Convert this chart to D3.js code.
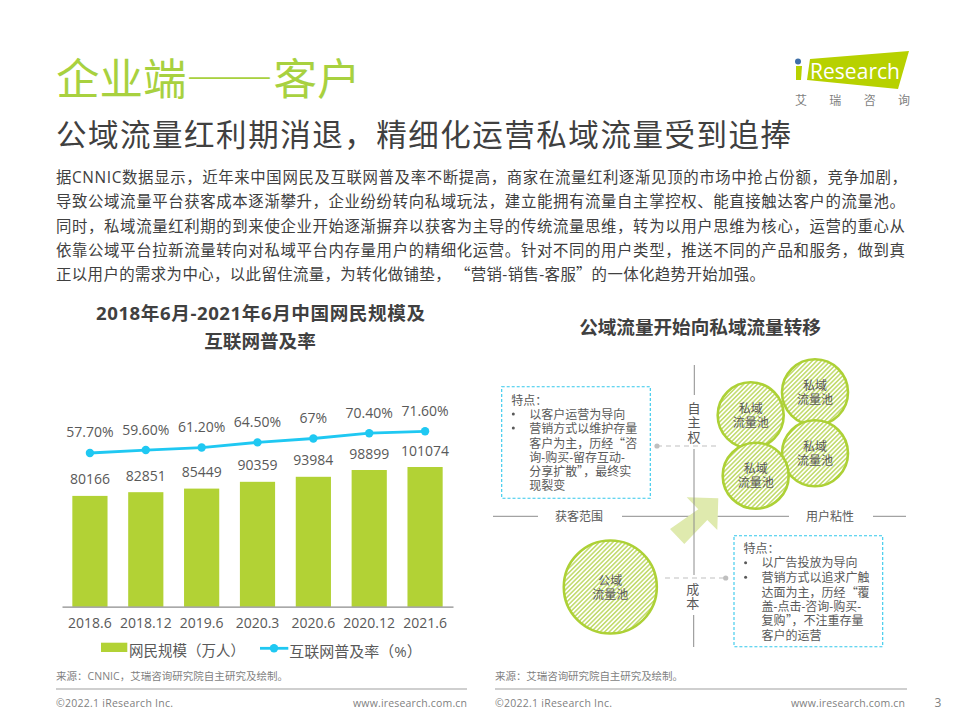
<!DOCTYPE html>
<html lang='en'>
	<head>
		<meta charset='utf-8'>
		<title>企业端——客户</title>
		<script src="https://d3js.org/d3.v7.min.js"></script>
		<style type="text/css">
			/* dashes and quotes must come from the CJK face, they are narrow in Open Sans */
			@font-face {
				font-family: "CjkPunct";
				src: local("Noto Sans CJK SC"), local("NotoSansCJKsc-Regular"), local("Noto Sans CJK SC Regular");
				unicode-range: U+2014, U+2018-201D;
			}
			html, body { margin: 0; padding: 0; background: #fff; }
			svg { display: block; }
			text { font-family: "CjkPunct", "Open Sans", "Noto Sans CJK SC", sans-serif; fill: #595959; }
		</style>
	</head>
	<body>
		<script type='text/javascript'>
			//Chart data
			var categories = ['2018.6', '2018.12', '2019.6', '2020.3', '2020.6', '2020.12', '2021.6'];
			var netizens = [80166, 82851, 85449, 90359, 93984, 98899, 101074];
			var rates = [57.7, 59.6, 61.2, 64.5, 67, 70.4, 71.6];
			var rateLabels = ['57.70%', '59.60%', '61.20%', '64.50%', '67%', '70.40%', '71.60%'];

			//Page text
			var bodyLines = [
				'据CNNIC数据显示，近年来中国网民及互联网普及率不断提高，商家在流量红利逐渐见顶的市场中抢占份额，竞争加剧，',
				'导致公域流量平台获客成本逐渐攀升，企业纷纷转向私域玩法，建立能拥有流量自主掌控权、能直接触达客户的流量池。',
				'同时，私域流量红利期的到来使企业开始逐渐摒弃以获客为主导的传统流量思维，转为以用户思维为核心，运营的重心从',
				'依靠公域平台拉新流量转向对私域平台内存量用户的精细化运营。针对不同的用户类型，推送不同的产品和服务，做到真',
				'正以用户的需求为中心，以此留住流量，为转化做铺垫， “营销-销售-客服”的一体化趋势开始加强。'
			];
			var leftBox = ['以客户运营为导向', '营销方式以维护存量', '客户为主，历经“咨', '询-购买-留存互动-', '分享扩散”，最终实', '现裂变'];
			var rightBox = ['以广告投放为导向', '营销方式以追求广触', '达面为主，历经“覆', '盖-点击-咨询-购买-', '复购”，不注重存量', '客户的运营'];

			var green = '#b2d235';
			var blue = '#1fc8f2';

			var svg = d3.select('body').append('svg').attr('width', 959).attr('height', 719);

			//Hatch used by the pools
			var hatch = svg.append('defs').append('pattern')
				.attr('id', 'hatch')
				.attr('width', 3.2)
				.attr('height', 3.2)
				.attr('patternUnits', 'userSpaceOnUse')
				.attr('patternTransform', 'rotate(-45)');
			hatch.append('rect').attr('width', 3.2).attr('height', 3.2).attr('fill', '#fff');
			hatch.append('rect').attr('width', 3.2).attr('height', 1.6).attr('fill', '#c4dc72');

			function label(x, y, str, size, opts) {
				opts = opts || {};
				var t = svg.append('text')
					.attr('x', x)
					.attr('y', y)
					.attr('dominant-baseline', 'central')
					.attr('text-anchor', opts.anchor || 'start')
					.style('font-size', size + 'px')
					.text(str);
				if (opts.fill) t.style('fill', opts.fill);
				if (opts.weight) t.style('font-weight', opts.weight);
				if (opts.width) t.attr('textLength', opts.width).attr('lengthAdjust', 'spacing');
				return t;
			}

			//Header
			label(56, 78, '企业端——客户', 43.5, {fill: '#a8d13f'})
				.style('font-feature-settings', '"fwid"');
			label(56, 134, '公域流量红利期消退，精细化运营私域流量受到追捧', 30.5, {fill: '#404040', width: 735});

			var bodyWidths = [851, 849, 849, 849, 709];
			var bodyY = [177, 201, 226, 250, 274];
			bodyLines.forEach(function(line, i) {
				label(56, bodyY[i], line, 15.4, {fill: '#404040', width: bodyWidths[i]});
			});

			//Logo
			svg.append('polygon')
				.attr('points', '810,59 909,51 898,89 807,80')
				.attr('fill', '#b7d100');
			svg.append('circle').attr('cx', 798).attr('cy', 61.5).attr('r', 3).attr('fill', '#3f6fa8');
			svg.append('polygon').attr('points', '796,66 802,66 801,80 796,80').attr('fill', '#b7d100');
			label(810, 71, 'Research', 21, {fill: '#fff', width: 90});
			label(795, 100, '艾瑞咨询', 12, {fill: '#7f7f7f', width: 115});

			//Left chart
			label(96, 312, '2018年6月-2021年6月中国网民规模及', 18.6, {weight: 700, fill: '#404040', width: 329});
			label(260, 340, '互联网普及率', 18.6, {anchor: 'middle', weight: 700, fill: '#404040'});

			var x = d3.scaleBand().domain(categories).range([62, 453]).paddingInner(0.37).paddingOuter(0.185);
			var y = d3.scaleLinear().domain([0, 101074]).range([606.7, 467]);
			var yRate = d3.scaleLinear().domain([0, 100]).range([543, 387]);
			var cx = function(d) { return x(d) + x.bandwidth() / 2; };

			svg.selectAll('rect.bar')
				.data(netizens)
				.enter()
				.append('rect')
				.attr('class', 'bar')
				.attr('x', function(d, i) { return x(categories[i]); })
				.attr('y', function(d) { return y(d); })
				.attr('width', x.bandwidth())
				.attr('height', function(d) { return y(0) - y(d); })
				.attr('fill', green);

			svg.selectAll('text.barval')
				.data(netizens)
				.enter()
				.append('text')
				.attr('class', 'barval')
				.attr('x', function(d, i) { return cx(categories[i]); })
				.attr('y', function(d) { return y(d) - 17; })
				.attr('dominant-baseline', 'central')
				.attr('text-anchor', 'middle')
				.style('font-size', '14px')
				.text(function(d) { return d; });

			var axis = svg.append('g')
				.attr('transform', 'translate(0,' + y(0) + ')')
				.call(d3.axisBottom(x).tickSize(0).tickPadding(11));
			axis.select('.domain').attr('stroke', '#8c8c8c').attr('stroke-width', 1.2);
			axis.selectAll('text').style('font-size', '14px').style('font-family', '"Open Sans", "Noto Sans CJK SC", sans-serif');

			var line = d3.line()
				.x(function(d, i) { return cx(categories[i]); })
				.y(function(d) { return yRate(d); });
			svg.append('path')
				.datum(rates)
				.attr('d', line)
				.attr('fill', 'none')
				.attr('stroke', blue)
				.attr('stroke-width', 2.8);
			svg.selectAll('circle.rate')
				.data(rates)
				.enter()
				.append('circle')
				.attr('class', 'rate')
				.attr('cx', function(d, i) { return cx(categories[i]); })
				.attr('cy', function(d) { return yRate(d); })
				.attr('r', 4.2)
				.attr('fill', blue);
			svg.selectAll('text.rateval')
				.data(rates)
				.enter()
				.append('text')
				.attr('class', 'rateval')
				.attr('x', function(d, i) { return cx(categories[i]); })
				.attr('y', function(d) { return yRate(d) - 21; })
				.attr('dominant-baseline', 'central')
				.attr('text-anchor', 'middle')
				.style('font-size', '14px')
				.text(function(d, i) { return rateLabels[i]; });

			//Legend
			svg.append('rect').attr('x', 101).attr('y', 642.7).attr('width', 26.3).attr('height', 9.3).attr('fill', green);
			label(129, 650.5, '网民规模（万人）', 14.5);
			svg.append('line').attr('x1', 260).attr('x2', 288.3).attr('y1', 648.3).attr('y2', 648.3).attr('stroke', blue).attr('stroke-width', 2.8);
			svg.append('circle').attr('cx', 274).attr('cy', 648.3).attr('r', 4.2).attr('fill', blue);
			label(289.3, 650.5, '互联网普及率（%）', 15);

			//Right diagram
			label(700, 326, '公域流量开始向私域流量转移', 18.6, {anchor: 'middle', weight: 700, fill: '#404040'});

			function crossLines(name, rows) {
				svg.selectAll('line.' + name)
					.data(rows)
					.enter()
					.append('line')
					.attr('class', name)
					.attr('x1', function(d) { return d[0]; })
					.attr('y1', function(d) { return d[1]; })
					.attr('x2', function(d) { return d[2]; })
					.attr('y2', function(d) { return d[3]; })
					.attr('stroke', '#8c8c8c')
					.attr('stroke-width', 1);
			}

			//horizontal runs under the arrow, vertical runs over it
			crossLines('hor', [[493, 516.3, 538, 516.3], [622, 516.3, 789, 516.3], [873, 516.3, 906, 516.3]]);
			svg.append('polygon')
				.attr('points', '718.3,498.3 686.7,497.3 698.3,509.3 670,529 684.3,544 707.3,520 717.3,530')
				.attr('fill', '#dfeaae');
			crossLines('ver', [[694.3, 365, 694.3, 395], [694, 449, 694, 575], [693.7, 615, 693.7, 647]]);

			label(694, 408, '自', 13, {anchor: 'middle'});
			label(694, 422, '主', 13, {anchor: 'middle'});
			label(694, 437, '权', 13, {anchor: 'middle'});
			label(692.7, 589, '成', 13, {anchor: 'middle'});
			label(692.7, 603, '本', 13, {anchor: 'middle'});
			label(579, 516, '获客范围', 12, {anchor: 'middle'});
			label(830, 516.7, '用户粘性', 12, {anchor: 'middle'});

			var pools = [
				{x: 750.7, y: 415.3, r: 33, top: '私域'},
				{x: 815, y: 392.3, r: 33, top: '私域'},
				{x: 815, y: 453.3, r: 33, top: '私域'},
				{x: 755.7, y: 475.7, r: 33, top: '私域'},
				{x: 610.3, y: 587, r: 46.5, top: '公域'}
			];
			pools.forEach(function(p) {
				svg.append('circle')
					.attr('cx', p.x)
					.attr('cy', p.y)
					.attr('r', p.r)
					.attr('fill', 'url(#hatch)')
					.attr('stroke', '#add136')
					.attr('stroke-width', 2.6);
				label(p.x, p.y - 7, p.top, 12, {anchor: 'middle'});
				label(p.x, p.y + 7, '流量池', 12, {anchor: 'middle'});
			});

			//Callout boxes
			function callout(bx, by, bw, bh, lines, ys) {
				svg.append('rect')
					.attr('x', bx)
					.attr('y', by)
					.attr('width', bw)
					.attr('height', bh)
					.attr('fill', 'none')
					.attr('stroke', '#33c8ec')
					.attr('stroke-width', 1.1)
					.attr('stroke-dasharray', '3 2');
				label(bx + 9.6, ys[0], '特点：', 12);
				[0, 1].forEach(function(i) {
					svg.append('circle').attr('cx', bx + 11.6).attr('cy', ys[i + 1]).attr('r', 1.5).attr('fill', '#595959');
				});
				lines.forEach(function(s, i) {
					label(bx + 27.6, ys[i + 1], s, 12);
				});
			}
			callout(501.7, 386.7, 148.6, 111.6, leftBox, [400, 414, 428, 443, 457.3, 471.7, 485.7]);
			callout(734, 535.7, 148.7, 111, rightBox, [548, 562.7, 577.3, 592, 606, 620, 635]);

			//Dashed leaders
			svg.append('line').attr('x1', 657).attr('x2', 717).attr('y1', 446).attr('y2', 446)
				.attr('stroke', '#bfbfbf').attr('stroke-width', 1.2).attr('stroke-dasharray', '5 4');
			svg.append('circle').attr('cx', 657).attr('cy', 446).attr('r', 2.6).attr('fill', '#bfbfbf');
			svg.append('line').attr('x1', 665).attr('x2', 725.7).attr('y1', 578).attr('y2', 578)
				.attr('stroke', '#bfbfbf').attr('stroke-width', 1.2).attr('stroke-dasharray', '5 4');
			svg.append('circle').attr('cx', 725.7).attr('cy', 578).attr('r', 2.6).attr('fill', '#bfbfbf');

			//Footer
			label(56, 676, '来源：CNNIC，艾瑞咨询研究院自主研究及绘制。', 10.5, {fill: '#7f7f7f', width: 232});
			label(495, 676, '来源：艾瑞咨询研究院自主研究及绘制。', 10.5, {fill: '#7f7f7f', width: 188});
			[[56, 467], [495, 907]].forEach(function(d) {
				svg.append('line').attr('x1', d[0]).attr('x2', d[1]).attr('y1', 689).attr('y2', 689)
					.attr('stroke', '#bfbfbf').attr('stroke-width', 1.4);
			});
			label(56, 703, '©2022.1 iResearch Inc.', 10.5, {fill: '#7f7f7f', width: 117});
			label(353, 703, 'www.iresearch.com.cn', 10.5, {fill: '#7f7f7f', width: 114});
			label(495, 703, '©2022.1 iResearch Inc.', 10.5, {fill: '#7f7f7f', width: 117});
			label(791, 703, 'www.iresearch.com.cn', 10.5, {fill: '#7f7f7f', width: 114});
			label(938, 702, '3', 12, {fill: '#7f7f7f', anchor: 'middle'});
		</script>
	</body>
</html>
